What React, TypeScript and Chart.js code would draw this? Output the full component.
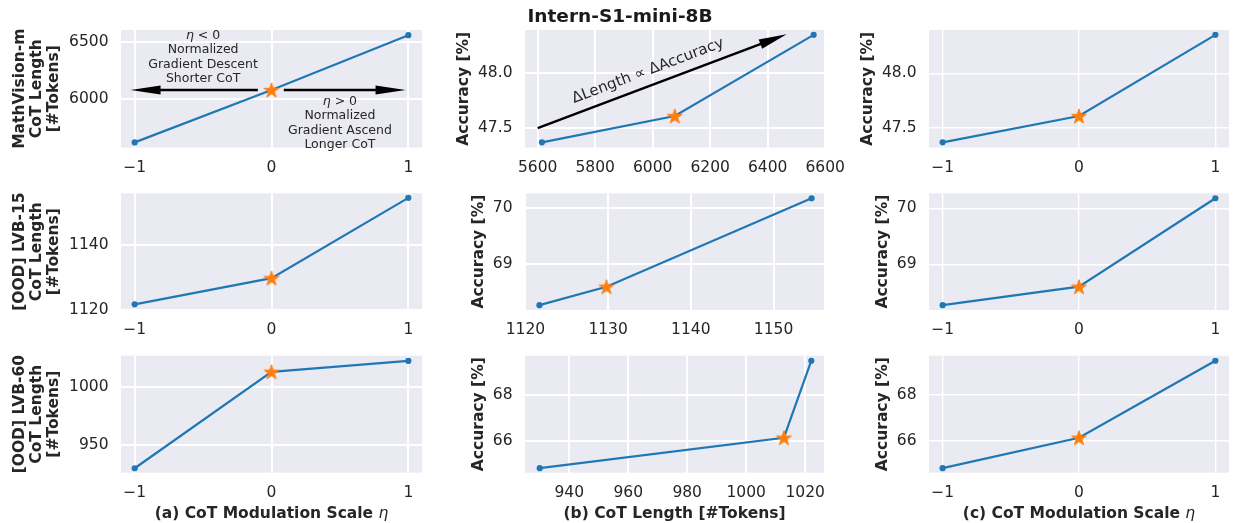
import React, { useEffect, useRef } from 'react';
import { Chart, registerables } from 'chart.js';

Chart.register(...registerables);

// ---------------- data ----------------
const etaValues = [-1, 0, 1];
const mathVisionLength = [5615, 6077, 6560];
const mathVisionAccuracy = [47.37, 47.61, 48.35];
const lvb15Length = [1121.7, 1129.8, 1154.6];
const lvb15Accuracy = [68.27, 68.6, 70.18];
const lvb60Length = [930, 1012.8, 1022.1];
const lvb60Accuracy = [64.8, 66.13, 69.5];

// ---------------- tick labels ----------------
const etaTicks = [-1, 0, 1];
const mathVisionLengthTicks = [6000, 6500];
const mathVisionLengthXTicks = [5600, 5800, 6000, 6200, 6400, 6600];
const mathVisionAccuracyTicks = [47.5, 48.0];
const lvb15LengthTicks = [1120, 1140];
const lvb15LengthXTicks = [1120, 1130, 1140, 1150];
const lvb15AccuracyTicks = [69, 70];
const lvb60LengthTicks = [950, 1000];
const lvb60LengthXTicks = [940, 960, 980, 1000, 1020];
const lvb60AccuracyTicks = [66, 68];

// ---------------- axis limits ----------------
const etaLimits = [-1.1, 1.1];
const mathVisionLengthLimits = [5570, 6606];
const mathVisionLengthXLimits = [5556, 6596];
const mathVisionAccuracyLimits = [47.323, 48.394];
const lvb15LengthLimits = [1119.95, 1156];
const lvb15LengthXLimits = [1119.95, 1156.1];
const lvb15AccuracyLimits = [68.184, 70.268];
const lvb60LengthLimits = [926.2, 1026.6];
const lvb60LengthXLimits = [925, 1026.4];
const lvb60AccuracyLimits = [64.6, 69.72];

// ---------------- texts ----------------
const suptitle = 'Intern-S1-mini-8B';
const rowNames = ['MathVision-m', '[OOD] LVB-15', '[OOD] LVB-60'];
const lengthTitleLines = ['CoT Length', '[#Tokens]'];
const accuracyTitle = 'Accuracy [%]';
const xLabels = ['(a) CoT Modulation Scale ', '(b) CoT Length [#Tokens]', '(c) CoT Modulation Scale '];
const xLabelSymbols = ['η', '', 'η'];
const descentNote = ['η < 0', 'Normalized', 'Gradient Descent', 'Shorter CoT'];
const ascentNote = ['η > 0', 'Normalized', 'Gradient Ascend', 'Longer CoT'];
const trendNote = 'ΔLength ∝ ΔAccuracy';

// annotation anchors (data coordinates)
const descentArrow = [[-0.1, 6077], [-1.03, 6077]];
const ascentArrow = [[0.09, 6077], [0.98, 6077]];
const descentNoteAnchor = [-0.5, 6556];
const ascentNoteAnchor = [0.5, 5974];
const trendArrow = [[5600, 47.5], [6466, 48.355]];
const trendNoteAnchor = [5984, 48.02];

// ---------------- layout / style ----------------
const W = 1233;
const H = 523;
const COLS = [{ l: 121, r: 422 }, { l: 525, r: 824 }, { l: 929, r: 1229 }];
const ROWS = [{ t: 30, b: 147.5 }, { t: 193.3, b: 310 }, { t: 355.7, b: 472.7 }];
const YTITLE_X = [[20, 464, 868], [20, 479, 883], [20, 479, 883]];
const FAMILY = "'DejaVu Sans', 'Liberation Sans', sans-serif";
const TEXT = '#262626';
const BLUE = '#1f77b4';
const ORANGE = '#ff7f0e';
const BG = '#EAEAF2';
const FS = 15.5;

function makeStar(): HTMLCanvasElement {
  const c = document.createElement('canvas');
  c.width = 20;
  c.height = 20;
  const ctx = c.getContext('2d')!;
  const R = 7.8;
  const r = R * 0.382;
  ctx.beginPath();
  for (let i = 0; i < 10; i++) {
    const rad = i % 2 === 0 ? R : r;
    const a = -Math.PI / 2 + (i * Math.PI) / 5;
    const x = 10 + rad * Math.cos(a);
    const y = 10.7 + rad * Math.sin(a);
    if (i === 0) ctx.moveTo(x, y);
    else ctx.lineTo(x, y);
  }
  ctx.closePath();
  ctx.fillStyle = ORANGE;
  ctx.fill();
  ctx.lineWidth = 1;
  ctx.strokeStyle = ORANGE;
  ctx.stroke();
  return c;
}

const fmtInt = (v: number) => (v < 0 ? '\u2212' + Math.abs(v) : String(v));
const fmt1 = (v: number) => v.toFixed(1);

function drawMixed(ctx: CanvasRenderingContext2D, parts: { text: string; font: string }[], cx: number, cy: number) {
  const widths = parts.map((p) => {
    ctx.font = p.font;
    return ctx.measureText(p.text).width;
  });
  const total = widths.reduce((a, b) => a + b, 0);
  let x = cx - total / 2;
  ctx.textAlign = 'left';
  ctx.textBaseline = 'middle';
  parts.forEach((p, i) => {
    ctx.font = p.font;
    ctx.fillText(p.text, x, cy);
    x += widths[i];
  });
}

function etaParts(line: string, size: number, weight: string) {
  if (!line.includes('η')) return [{ text: line, font: `${weight} ${size}px ${FAMILY}` }];
  const idx = line.indexOf('η');
  const parts = [] as { text: string; font: string }[];
  if (idx > 0) parts.push({ text: line.slice(0, idx), font: `${weight} ${size}px ${FAMILY}` });
  parts.push({ text: 'η', font: `italic ${size}px ${FAMILY}` });
  if (idx < line.length - 1) parts.push({ text: line.slice(idx + 1), font: `normal ${size}px ${FAMILY}` });
  return parts;
}

function drawArrow(ctx: CanvasRenderingContext2D, x0: number, y0: number, x1: number, y1: number, headLen: number, headW: number, lw: number) {
  const ang = Math.atan2(y1 - y0, x1 - x0);
  const bx = x1 - headLen * Math.cos(ang);
  const by = y1 - headLen * Math.sin(ang);
  ctx.strokeStyle = '#000';
  ctx.fillStyle = '#000';
  ctx.lineWidth = lw;
  ctx.beginPath();
  ctx.moveTo(x0, y0);
  ctx.lineTo(bx + 2 * Math.cos(ang), by + 2 * Math.sin(ang));
  ctx.stroke();
  const nx = -Math.sin(ang) * (headW / 2);
  const ny = Math.cos(ang) * (headW / 2);
  ctx.beginPath();
  ctx.moveTo(x1, y1);
  ctx.lineTo(bx + nx, by + ny);
  ctx.lineTo(bx - nx, by - ny);
  ctx.closePath();
  ctx.fill();
}

const bgPlugin = {
  id: 'panelBg',
  beforeDraw(chart: any) {
    const { ctx, chartArea: a } = chart;
    ctx.save();
    ctx.fillStyle = BG;
    ctx.fillRect(a.left, a.top, a.right - a.left, a.bottom - a.top);
    ctx.restore();
  },
};

const etaNotesPlugin = {
  id: 'etaNotes',
  afterDatasetsDraw(chart: any) {
    const { ctx } = chart;
    const xs = chart.scales.x;
    const ys = chart.scales.y;
    const px = (p: number[]) => [xs.getPixelForValue(p[0]), ys.getPixelForValue(p[1])];
    ctx.save();
    for (const arr of [descentArrow, ascentArrow]) {
      const [a, b] = [px(arr[0]), px(arr[1])];
      drawArrow(ctx, a[0], a[1], b[0], b[1], 30, 9, 2.4);
    }
    const lh = 14.4;
    const notes: [string[], number[]][] = [[descentNote, descentNoteAnchor], [ascentNote, ascentNoteAnchor]];
    for (const [lines, anchor] of notes) {
      const [cx, cy] = px(anchor);
      lines.forEach((ln, i) => {
        ctx.fillStyle = TEXT;
        drawMixed(ctx, etaParts(ln, 12.5, 'normal'), cx, cy + i * lh);
      });
    }
    ctx.restore();
  },
};

const trendPlugin = {
  id: 'trendNote',
  afterDatasetsDraw(chart: any) {
    const { ctx } = chart;
    const xs = chart.scales.x;
    const ys = chart.scales.y;
    const a = [xs.getPixelForValue(trendArrow[0][0]), ys.getPixelForValue(trendArrow[0][1])];
    const b = [xs.getPixelForValue(trendArrow[1][0]), ys.getPixelForValue(trendArrow[1][1])];
    ctx.save();
    drawArrow(ctx, a[0], a[1], b[0], b[1], 28, 10, 2.4);
    const ang = Math.atan2(b[1] - a[1], b[0] - a[0]);
    const cx = xs.getPixelForValue(trendNoteAnchor[0]);
    const cy = ys.getPixelForValue(trendNoteAnchor[1]);
    ctx.translate(cx, cy);
    ctx.rotate(ang);
    ctx.fillStyle = TEXT;
    ctx.font = `normal 15px ${FAMILY}`;
    ctx.textAlign = 'center';
    ctx.textBaseline = 'middle';
    ctx.fillText(trendNote, 0, 0);
    ctx.restore();
  },
};

const suptitlePlugin = {
  id: 'suptitle',
  afterDraw(chart: any) {
    const { ctx } = chart;
    ctx.save();
    ctx.fillStyle = '#1a1a1a';
    ctx.font = `bold 18.5px ${FAMILY}`;
    ctx.textAlign = 'center';
    ctx.textBaseline = 'middle';
    ctx.fillText(suptitle, 620, 17);
    ctx.restore();
  },
};

function xLabelPlugin(col: number) {
  return {
    id: 'xLabel' + col,
    afterDraw(chart: any) {
      const { ctx, chartArea: a } = chart;
      ctx.save();
      ctx.fillStyle = TEXT;
      const parts = [{ text: xLabels[col], font: `bold ${FS}px ${FAMILY}` }];
      if (xLabelSymbols[col]) parts.push({ text: xLabelSymbols[col], font: `italic ${FS}px ${FAMILY}` });
      drawMixed(ctx, parts, (a.left + a.right) / 2, 513.5);
      ctx.restore();
    },
  };
}

type Panel = {
  row: number;
  col: number;
  x: number[];
  y: number[];
  xLim: number[];
  yLim: number[];
  xTicks: number[];
  yTicks: number[];
  xFmt: (v: number) => string;
  yFmt: (v: number) => string;
  yTitle: string | string[];
};

const lengthSets = [mathVisionLength, lvb15Length, lvb60Length];
const accSets = [mathVisionAccuracy, lvb15Accuracy, lvb60Accuracy];
const lengthYTicks = [mathVisionLengthTicks, lvb15LengthTicks, lvb60LengthTicks];
const lengthXTicks = [mathVisionLengthXTicks, lvb15LengthXTicks, lvb60LengthXTicks];
const accTicks = [mathVisionAccuracyTicks, lvb15AccuracyTicks, lvb60AccuracyTicks];
const lengthYLims = [mathVisionLengthLimits, lvb15LengthLimits, lvb60LengthLimits];
const lengthXLims = [mathVisionLengthXLimits, lvb15LengthXLimits, lvb60LengthXLimits];
const accLims = [mathVisionAccuracyLimits, lvb15AccuracyLimits, lvb60AccuracyLimits];

const PANELS: Panel[] = [];
for (let r = 0; r < 3; r++) {
  const accFmt = r === 0 ? fmt1 : fmtInt;
  PANELS.push({
    row: r, col: 0, x: etaValues, y: lengthSets[r], xLim: etaLimits, yLim: lengthYLims[r],
    xTicks: etaTicks, yTicks: lengthYTicks[r], xFmt: fmtInt, yFmt: fmtInt,
    yTitle: [rowNames[r], ...lengthTitleLines],
  });
  PANELS.push({
    row: r, col: 1, x: lengthSets[r], y: accSets[r], xLim: lengthXLims[r], yLim: accLims[r],
    xTicks: lengthXTicks[r], yTicks: accTicks[r], xFmt: fmtInt, yFmt: accFmt, yTitle: accuracyTitle,
  });
  PANELS.push({
    row: r, col: 2, x: etaValues, y: accSets[r], xLim: etaLimits, yLim: accLims[r],
    xTicks: etaTicks, yTicks: accTicks[r], xFmt: fmtInt, yFmt: accFmt, yTitle: accuracyTitle,
  });
}

function buildConfig(p: Panel, star: HTMLCanvasElement): any {
  const col = COLS[p.col];
  const row = ROWS[p.row];
  const gridW = p.col === 2 ? 1.4 : 2;
  const titleLH = 1.09;
  const titlePad = YTITLE_X[p.row][p.col] - (FS * titleLH) / 2;
  const plugins: any[] = [bgPlugin];
  if (p.row === 0 && p.col === 0) plugins.push(etaNotesPlugin);
  if (p.row === 0 && p.col === 1) plugins.push(trendPlugin, suptitlePlugin);
  if (p.row === 2) plugins.push(xLabelPlugin(p.col));
  const tickFont = { family: FAMILY, size: FS };
  return {
    type: 'line',
    data: {
      datasets: [
        {
          data: p.x.map((x, i) => ({ x, y: p.y[i] })),
          borderColor: BLUE,
          borderWidth: 2.2,
          pointStyle: ['circle', star, 'circle'],
          pointRadius: [3.1, 8, 3.1],
          pointBackgroundColor: [BLUE, ORANGE, BLUE],
          pointBorderWidth: 0,
          pointBorderColor: [BLUE, ORANGE, BLUE],
          tension: 0,
        },
      ],
    },
    options: {
      animation: false,
      responsive: false,
      events: [],
      layout: { padding: { left: 0, top: row.t, right: W - col.r, bottom: 0 } },
      plugins: { legend: { display: false }, tooltip: { enabled: false }, title: { display: false } },
      scales: {
        x: {
          type: 'linear',
          min: p.xLim[0],
          max: p.xLim[1],
          bounds: 'data',
          afterFit: (s: any) => { s.height = H - row.b; },
          afterBuildTicks: (s: any) => { s.ticks = p.xTicks.map((v) => ({ value: v })); },
          grid: { color: '#ffffff', lineWidth: gridW, drawTicks: false },
          border: { display: false },
          ticks: { padding: 11, color: TEXT, font: tickFont, autoSkip: false, maxRotation: 0, callback: (v: number) => p.xFmt(v) },
        },
        y: {
          type: 'linear',
          min: p.yLim[0],
          max: p.yLim[1],
          bounds: 'data',
          afterFit: (s: any) => { s.width = col.l; },
          afterBuildTicks: (s: any) => { s.ticks = p.yTicks.map((v) => ({ value: v })); },
          grid: { color: '#ffffff', lineWidth: gridW, drawTicks: false },
          border: { display: false },
          ticks: { padding: 12.5, color: TEXT, font: tickFont, autoSkip: false, callback: (v: number) => p.yFmt(v) },
          title: {
            display: true,
            text: p.yTitle,
            color: TEXT,
            font: { family: FAMILY, size: FS, weight: 'bold', lineHeight: titleLH },
            padding: { top: titlePad, bottom: 0 },
          },
        },
      },
    },
    plugins,
  };
}

function PanelChart({ panel }: { panel: Panel }) {
  const ref = useRef<HTMLCanvasElement>(null);
  useEffect(() => {
    const star = makeStar();
    const chart = new Chart(ref.current!, buildConfig(panel, star));
    return () => chart.destroy();
  }, [panel]);
  return (
    <canvas
      ref={ref}
      width={W}
      height={H}
      style={{ position: 'absolute', left: 0, top: 0, width: W, height: H }}
    />
  );
}

export default function App() {
  return (
    <div style={{ position: 'fixed', left: 0, top: 0, width: W, height: H, background: '#ffffff' }}>
      {PANELS.map((p, i) => (
        <PanelChart key={i} panel={p} />
      ))}
    </div>
  );
}
